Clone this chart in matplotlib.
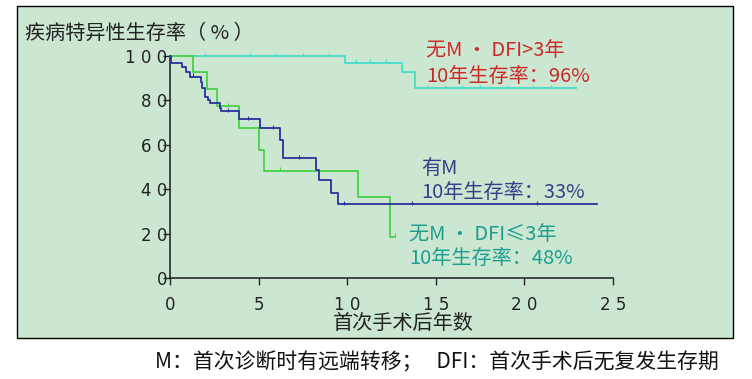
import numpy as np
import matplotlib
matplotlib.use('Agg')
import matplotlib.pyplot as plt
from matplotlib.patches import Rectangle

# ====================== DATA ======================
# years after first surgery / survival (%), step curves
cyan_t = [0, 9.9, 13.1, 13.8, 22.9]
cyan_s = [100, 97, 92.6, 85.4, 85.4]
cyan_cens_t = [2.0, 4.5, 6.0, 7.5, 9.0, 10.5, 11.3, 12.2, 14.5, 15.5, 16.5, 17.5, 19.0, 20.5, 21.5]

blue_t = [0, 0.05, 0.7, 0.9, 1.15, 1.75, 1.8, 2.0, 2.15, 2.26, 2.8, 2.9, 3.9,
          5.1, 6.2, 6.4, 8.25, 8.4, 9.1, 9.5, 24.1]
blue_s = [100, 97, 95, 93, 90.7, 88.4, 85.4, 81.7, 80.2, 78.7, 76.7, 75.2, 71.6,
          67.5, 62, 54, 48.6, 44, 38.4, 33.2, 33.2]
blue_cens_t = [1.3, 3.3, 4.4, 5.8, 7.3, 9.8, 13.65, 20.7]

green_t = [0, 1.3, 2.07, 2.67, 3.9, 5.0, 5.3, 10.6, 12.4, 12.7]
green_s = [100, 92.7, 85, 77.5, 67.5, 57.7, 48.3, 36.4, 18.6, 18.6]
green_cens_t = [3.3, 6.2, 12.7]

x_ticks = [0, 5, 10, 15, 20, 25]
x_labels = ["0", "5", "1 0", "1 5", "2 0", "2 5"]
y_ticks = [0, 20, 40, 60, 80, 100]
y_labels = ["0", "2 0", "4 0", "6 0", "8 0", "1 0 0"]

CJK = ['Noto Sans CJK SC', 'DejaVu Sans']
PANEL = '#cce7d1'
C_CYAN = '#45dccb'
C_BLUE = '#27329a'
C_GREEN = '#48d046'
T_RED = '#cc2a28'
T_BLUE = '#34418a'
T_TEAL = '#1e9e8e'

W, H = 752, 379
fig = plt.figure(figsize=(W / 100, H / 100), dpi=100)
fig.patch.set_facecolor('white')

def px(x, y):
    return x / W, 1 - y / H

# green panel behind everything
fig.patches.append(Rectangle(px(17, 338), 716 / W, 332 / H, transform=fig.transFigure,
                             facecolor=PANEL, edgecolor='black', linewidth=1.0, zorder=-5))

x0, y0 = px(170, 278)
ax = fig.add_axes([x0, y0, (613 - 170) / W, (278 - 56) / H])
ax.set_facecolor('none')
ax.set_xlim(0, 25)
ax.set_ylim(0, 100)
for side in ['top', 'right']:
    ax.spines[side].set_visible(False)
for side in ['left', 'bottom']:
    ax.spines[side].set_color('#1a1a1a')
    ax.spines[side].set_linewidth(1.1)

ax.set_xticks(x_ticks)
ax.set_xticklabels(x_labels, fontsize=12, color='#222222')
ax.set_yticks(y_ticks)
ax.set_yticklabels(y_labels, fontsize=12, color='#222222')
ax.tick_params(axis='x', length=5, width=1, pad=8, colors='#222222')
ax.tick_params(axis='y', length=5, width=1, pad=-3, colors='#222222')


def km(t, s, cens, color):
    ax.step(t, s, where='post', color=color, lw=1.3, clip_on=False, zorder=3)
    cs = [s[np.searchsorted(t, c, side='right') - 1] for c in cens]
    ax.plot(cens, np.array(cs) + 0.6, linestyle='none', marker='|', markersize=2.2,
            markeredgewidth=0.8, color=color, clip_on=False, zorder=3)

km(cyan_t, cyan_s, cyan_cens_t, C_CYAN)
km(green_t, green_s, green_cens_t, C_GREEN)
km(blue_t, blue_s, blue_cens_t, C_BLUE)

# texts
fs = 14.5
fig.text(*px(25, 33), "疾病特异性生存率（ % ）", family=CJK, fontsize=fs,
         va='center', ha='left', color='#222222')
fig.text(*px(403, 323), "首次手术后年数", family=CJK, fontsize=fs,
         va='center', ha='center', color='#222222')
fig.text(*px(155, 362), "M：首次诊断时有远端转移；   DFI：首次手术后无复发生存期",
         family=CJK, fontsize=15, va='center', ha='left', color='#111111')

fig.text(*px(426, 50), "无M · DFI>3年", family=CJK, fontsize=fs, va='center', color=T_RED)
fig.text(*px(426, 76), "10年生存率：96%", family=CJK, fontsize=fs, va='center', color=T_RED)
fig.text(*px(421, 168), "有M", family=CJK, fontsize=fs, va='center', color=T_BLUE)
fig.text(*px(421, 192), "10年生存率：33%", family=CJK, fontsize=fs, va='center', color=T_BLUE)
fig.text(*px(409, 235), "无M · DFI≤3年", family=CJK, fontsize=fs, va='center', color=T_TEAL)
fig.text(*px(409, 259), "10年生存率：48%", family=CJK, fontsize=fs, va='center', color=T_TEAL)

fig.savefig('out.png', dpi=100)
